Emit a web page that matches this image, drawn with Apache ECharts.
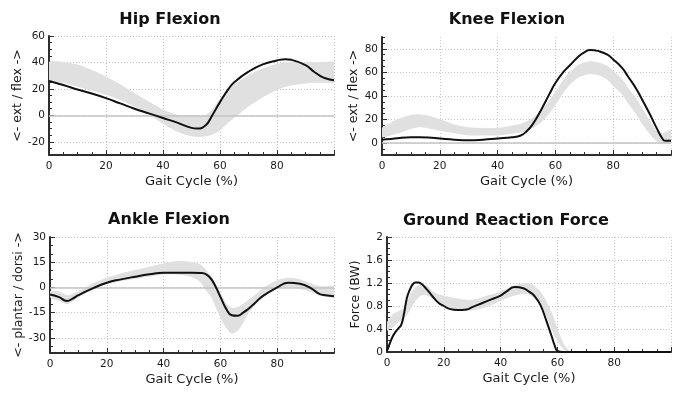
<!DOCTYPE html>
<html><head><meta charset="utf-8">
<script src="https://cdn.jsdelivr.net/npm/echarts@6/dist/echarts.min.js"></script>
<style>html,body{margin:0;padding:0;background:#fff}#c{width:678px;height:393px}</style>
</head><body><div id="c"></div>
<script>
// ---- Hip Flexion ----
const hipX    = [0,5,10,15,20,25,30,35,40,45,50,52,55,57,60,63,65,70,75,80,83,85,90,93,95,97,100];
const hipMean = [26,23,19.5,16.5,13,9,5,1.5,-2,-5.5,-9.5,-10,-7.5,-1,10,20,25,33,38.5,41.5,42.5,42,38,33,30,28,26.5];
const hipHi   = [40,40,38,34,29,23,16.5,10,4,0,-1,-1,0,3,12,19,23,30,35,38.5,39.5,40,40,40,40,40,40];
const hipLo   = [27,25,22,19,16,12,7,1,-6,-12,-15.5,-16,-15.5,-14.5,-11,-5,-1.5,7,14,19.5,22,23,24.5,25,25,25,25];
// ---- Knee Flexion ----
const kneeX    = [0,3,6,10,13,16,20,25,30,35,40,45,48,50,52,55,58,60,63,65,68,70,72,75,78,80,83,85,88,90,93,95,97,98,100];
const kneeMean = [3,3.5,4.5,5,5,4.8,4,3,2.5,3,4,5,6.5,10,15.5,28,42,51,61,66,73.5,77,79,78,75,71,64,57,46,37,23,13,4,2,2];
const kneeHi   = [12.5,17,20.5,23.5,24,23,20,15.5,13,12.5,12.5,14.5,16,18,21,27,36,43,54,60,66,68,69,68,65,61,54,47,37,29,17,10,8,9,11];
const kneeLo   = [5.5,7,9,12.5,14,13,11,9,7,7,7,8.5,9.5,11,13,18,26,33,44,50,56,58,59,58,54,49,42,35,25,17,7,2,-0.5,0,1.5];
// ---- Ankle Flexion ----
const ankleX    = [0,3,6,8,10,15,20,25,30,35,40,45,50,53,55,57,60,62,64,66,68,70,72,75,80,84,88,92,95,97,100];
const ankleMean = [-4.2,-5.6,-8,-6.6,-4.6,-0.6,2.8,4.8,6.4,7.8,8.8,8.8,8.8,8.6,7.8,4.5,-5.6,-12.6,-16.5,-16.8,-15,-12.5,-9.5,-5,0,2.8,2.2,-0.5,-4,-4.6,-5.2];
const ankleHi   = [-2.6,-2.6,-5,-4,-2.6,2,5.4,8,10,12,14,15.4,14.8,13.4,10,5.4,-3.6,-9.6,-12.6,-12,-10,-7.6,-5,-0.6,4,5.4,4.5,2,0.4,0.4,0.4];
const ankleLo   = [-5.6,-7.6,-9.6,-8,-5.6,-1.2,2,4,5.4,6.8,8,8,6.4,3.4,-1.6,-6,-17.6,-23.6,-27.2,-25.6,-20.6,-14.6,-10.5,-5.6,-0.6,0.4,-0.5,-2.5,-4.6,-5.2,-5.6];
// ---- Ground Reaction Force ----
const grfX    = [0,1,2,3,4,5,6,7,8,9,10,11,12,14,16,18,20,22,25,28,30,33,35,38,40,42,45,48,50,52,54,56,58,59,60,62,64,66,70,80,90,100];
const grfMean = [0.02,0.15,0.27,0.35,0.41,0.47,0.67,0.94,1.08,1.17,1.21,1.21,1.19,1.09,0.97,0.86,0.8,0.75,0.73,0.74,0.78,0.84,0.88,0.94,0.98,1.05,1.13,1.11,1.05,0.97,0.82,0.56,0.27,0.12,0.02,0,0,0,0,0,0,0];
const grfHi   = [0.5,0.58,0.65,0.68,0.7,0.72,0.76,0.85,0.97,1.05,1.11,1.15,1.17,1.15,1.05,1.0,0.97,0.95,0.92,0.9,0.9,0.93,0.97,1.01,1.05,1.09,1.15,1.19,1.19,1.14,1.04,0.88,0.67,0.53,0.38,0.15,0.02,0,0,0,0,0];
const grfLo   = [0.38,0.41,0.44,0.48,0.53,0.56,0.59,0.66,0.73,0.82,0.9,0.95,0.99,0.99,0.94,0.88,0.82,0.78,0.74,0.73,0.73,0.76,0.79,0.85,0.9,0.94,0.99,1.02,1.01,0.94,0.82,0.66,0.41,0.3,0.21,0.06,0,0,0,0,0,0];
// ---- tick labels ----
const xTickLabels   = [0,20,40,60,80];
const hipYTicks     = [-20,0,20,40,60];
const kneeYTicks    = [0,20,40,60,80];
const ankleYTicks   = [-30,-15,0,15,30];
const grfYTicks     = [0,0.4,0.8,1.2,1.6,2];
const titles = ['Hip Flexion','Knee Flexion','Ankle Flexion','Ground Reaction Force'];
const yNames = ['<- ext / flex ->','<- ext / flex ->','<- plantar / dorsi ->','Force (BW)'];
const xName = 'Gait Cycle (%)';

const TXT = '#1a1a1a', AX = '#2e2e2e', GRIDC = '#c4c4c4', BAND = '#e0e0e0';
const panels = [
  {xs:hipX, mean:hipMean, hi:hipHi, lo:hipLo, yMin:-30, yMax:60, yTicks:hipYTicks, minor:5,
   grid:{left:49, top:36, width:285, height:119}, yGap:24, zero:true, tpos:[170,20]},
  {xs:kneeX, mean:kneeMean, hi:kneeHi, lo:kneeLo, yMin:-10, yMax:90, yTicks:kneeYTicks, minor:5,
   grid:{left:382, top:37, width:289, height:118}, yGap:20, zero:true, tpos:[507,20]},
  {xs:ankleX, mean:ankleMean, hi:ankleHi, lo:ankleLo, yMin:-39, yMax:30, yTicks:ankleYTicks, minor:5,
   grid:{left:50, top:237, width:284, height:116}, yGap:25, zero:true, tpos:[169,220]},
  {xs:grfX, mean:grfMean, hi:grfHi, lo:grfLo, yMin:0, yMax:2, yTicks:grfYTicks, minor:0.1,
   grid:{left:387, top:237, width:284, height:115}, yGap:25, zero:false, tpos:[506,221]}
];

const grids=[], xAxes=[], yAxes=[], series=[], graphics=[];
panels.forEach((p,i)=>{
  grids.push(Object.assign({containLabel:false}, p.grid));
  const minors=[];
  for (let v=Math.ceil(p.yMin/p.minor-1e-9); v*p.minor<=p.yMax+1e-9; v++) minors.push(+(v*p.minor).toFixed(3));
  xAxes.push({gridIndex:i, type:'value', min:0, max:100, interval:20,
    name:xName, nameLocation:'middle', nameGap:20,
    nameTextStyle:{color:TXT, fontFamily:'DejaVu Sans', fontSize:13},
    axisLine:{onZero:false, lineStyle:{color:AX, width:2}},
    axisTick:{inside:true, length:5, lineStyle:{color:AX, width:1}},
    minorTick:{show:true, splitNumber:4, length:3, lineStyle:{color:AX, width:1}},
    axisLabel:{color:TXT, fontFamily:'DejaVu Sans', fontSize:10.5, margin:6, showMaxLabel:false,
      formatter:v=> xTickLabels.indexOf(v)>=0 ? String(v) : ''},
    splitLine:{show:true, lineStyle:{color:GRIDC, type:[1,2], width:1}}
  });
  yAxes.push({gridIndex:i, type:'value', min:p.yMin, max:p.yMax, position:'left',
    name:yNames[i], nameLocation:'middle', nameGap:p.yGap,
    nameTextStyle:{color:TXT, fontFamily:'DejaVu Sans', fontSize:12.5},
    axisLine:{onZero:false, lineStyle:{color:AX, width:2}},
    axisTick:{inside:true, length:5, customValues:p.yTicks, lineStyle:{color:AX, width:1}},
    axisLabel:{color:TXT, fontFamily:'DejaVu Sans', fontSize:10.5, margin:4, customValues:p.yTicks},
    splitLine:{show:true, lineStyle:{color:GRIDC, type:[1,2], width:1}}
  });
  yAxes.push({gridIndex:i, type:'value', min:p.yMin, max:p.yMax, position:'left', offset:0,
    axisLine:{show:false}, axisLabel:{show:false}, splitLine:{show:false},
    axisTick:{show:true, inside:true, length:3, customValues:minors, lineStyle:{color:AX, width:1}}
  });
  series.push({type:'custom', xAxisIndex:i, yAxisIndex:2*i, silent:true, z:1, clip:true,
    data:[[0, p.yMin]],
    renderItem:(params, api)=>{
      const pts=[];
      for (let k=0;k<p.xs.length;k++) pts.push(api.coord([p.xs[k], p.hi[k]]));
      for (let k=p.xs.length-1;k>=0;k--) pts.push(api.coord([p.xs[k], p.lo[k]]));
      return {type:'polygon', shape:{points:pts, smooth:0.25}, style:{fill:BAND, stroke:BAND, lineWidth:1}};
    }
  });
  const ln = {type:'line', xAxisIndex:i, yAxisIndex:2*i, z:5, symbol:'none', showSymbol:false,
    smooth:0.5, lineStyle:{color:'#111', width:2}, data:p.xs.map((x,k)=>[x,p.mean[k]])};
  if (p.zero) ln.markLine = {silent:true, symbol:['none','none'], label:{show:false},
    lineStyle:{color:'#c4c4c4', type:'solid', width:1.5}, data:[{yAxis:0}], animation:false};
  series.push(ln);
  graphics.push({type:'text', x:p.tpos[0], y:p.tpos[1], silent:true,
    style:{text:titles[i], align:'center', verticalAlign:'middle', fill:'#111',
      font:'bold 16px "DejaVu Sans"'}});
});

const chart = echarts.init(document.getElementById('c'), null, {renderer:'canvas'});
chart.setOption({animation:false, backgroundColor:'#fff', grid:grids, xAxis:xAxes, yAxis:yAxes,
  series:series, graphic:graphics});
</script></body></html>
